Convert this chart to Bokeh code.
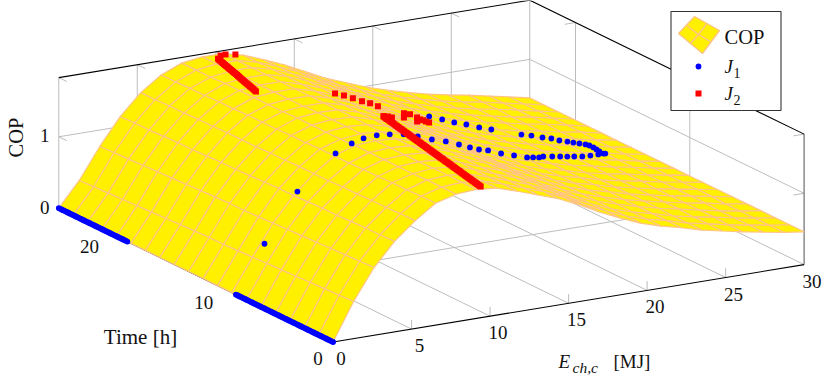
from math import pi
from bokeh.plotting import figure
from bokeh.models import Range1d
from bokeh.core.properties import value
from bokeh.embed import file_html
from bokeh.resources import INLINE

# ---- data ------------------------------------------------------------
energy_grid = [0, 1.304, 2.609, 3.913, 5.217, 6.522, 7.826, 9.130, 10.435, 11.739, 13.043, 14.348,
               15.652, 16.957, 18.261, 19.565, 20.870, 22.174, 23.478, 24.783, 26.087, 27.391, 28.696, 30]
time_grid = [0, 1.263, 2.526, 3.789, 5.053, 6.316, 7.579, 8.842, 10.105, 11.368,
             12.632, 13.895, 15.158, 16.421, 17.684, 18.947, 20.211, 21.474, 22.737, 24]
cop_surface = [
 [0,.52,.95,1.27,1.51,1.71,1.79,1.81,1.78,1.69,1.59,1.49,1.36,1.21,1.08,.96,.87,.80,.72,.66,.60,.55,.50,.46],
 [0,.51,.94,1.26,1.51,1.71,1.79,1.81,1.78,1.69,1.59,1.49,1.36,1.21,1.08,.96,.87,.80,.72,.66,.60,.55,.50,.46],
 [0,.50,.93,1.26,1.50,1.70,1.79,1.81,1.78,1.69,1.59,1.49,1.36,1.21,1.08,.96,.87,.80,.72,.66,.61,.55,.50,.46],
 [0,.49,.92,1.25,1.50,1.70,1.78,1.81,1.78,1.70,1.59,1.49,1.36,1.21,1.08,.97,.88,.80,.73,.67,.61,.55,.50,.46],
 [0,.48,.91,1.24,1.49,1.69,1.78,1.80,1.78,1.70,1.59,1.49,1.36,1.21,1.08,.97,.88,.80,.73,.67,.61,.56,.50,.46],
 [0,.47,.90,1.24,1.49,1.69,1.78,1.80,1.78,1.70,1.60,1.49,1.36,1.21,1.09,.97,.88,.81,.73,.67,.61,.56,.51,.46],
 [0,.46,.89,1.23,1.48,1.68,1.78,1.80,1.78,1.70,1.60,1.49,1.36,1.21,1.09,.97,.88,.81,.73,.67,.61,.56,.51,.46],
 [0,.45,.88,1.22,1.48,1.68,1.78,1.80,1.78,1.70,1.60,1.49,1.36,1.21,1.09,.97,.88,.81,.73,.67,.62,.56,.51,.46],
 [0,.44,.87,1.22,1.48,1.68,1.77,1.80,1.78,1.70,1.60,1.49,1.36,1.21,1.09,.97,.88,.81,.73,.67,.62,.56,.51,.46],
 [0,.43,.86,1.21,1.47,1.67,1.77,1.80,1.78,1.71,1.60,1.49,1.36,1.21,1.09,.97,.89,.81,.74,.68,.62,.57,.51,.46],
 [0,.43,.86,1.20,1.47,1.67,1.77,1.80,1.79,1.71,1.60,1.49,1.35,1.21,1.09,.98,.89,.81,.74,.68,.62,.57,.51,.46],
 [0,.42,.85,1.19,1.46,1.66,1.77,1.80,1.79,1.71,1.60,1.49,1.35,1.21,1.09,.98,.89,.81,.74,.68,.62,.57,.51,.46],
 [0,.41,.84,1.19,1.46,1.66,1.76,1.79,1.79,1.71,1.60,1.49,1.35,1.21,1.09,.98,.89,.81,.74,.68,.63,.57,.51,.46],
 [0,.40,.83,1.18,1.46,1.66,1.76,1.79,1.79,1.71,1.60,1.49,1.35,1.21,1.09,.98,.89,.81,.74,.68,.63,.57,.51,.46],
 [0,.39,.82,1.17,1.45,1.65,1.76,1.79,1.79,1.71,1.60,1.49,1.35,1.21,1.09,.98,.89,.81,.74,.68,.63,.57,.52,.46],
 [0,.38,.81,1.17,1.45,1.65,1.76,1.79,1.79,1.71,1.61,1.49,1.35,1.21,1.10,.98,.90,.82,.75,.69,.63,.58,.52,.46],
 [0,.37,.80,1.16,1.44,1.64,1.76,1.79,1.79,1.72,1.61,1.49,1.35,1.21,1.10,.99,.90,.82,.75,.69,.63,.58,.52,.46],
 [0,.36,.79,1.15,1.44,1.64,1.75,1.79,1.79,1.72,1.61,1.49,1.35,1.21,1.10,.99,.90,.82,.75,.69,.64,.58,.52,.46],
 [0,.35,.78,1.15,1.43,1.63,1.75,1.79,1.79,1.72,1.61,1.49,1.35,1.21,1.10,.99,.90,.82,.75,.69,.64,.58,.52,.46],
 [0,.34,.77,1.14,1.43,1.63,1.75,1.79,1.79,1.72,1.61,1.49,1.35,1.21,1.10,.99,.90,.82,.75,.69,.64,.58,.52,.46],
]

j1_t = [0,.125,.25,.375,.5,.625,.75,.875,1,1.125,1.25,1.375,1.5,1.625,1.75,1.875,2,2.125,2.25,2.375,2.5,2.625,2.75,2.875,
        3,3.125,3.25,3.375,3.5,3.625,3.75,3.875,4,4.125,4.25,4.375,4.5,4.625,4.75,4.875,5,5.125,5.25,5.375,5.5,5.625,5.75,5.875,
        6,6.125,6.25,6.375,6.5,6.625,6.75,6.875,7,7.125,7.25,7.375,7.5,7.625,7.75,7.875,8,8.125,8.25,8.375,8.5,
        8.75,9,9.25,9.5,9.75,10,10.25,10.5,10.75,11,11.25,11.5,11.75,12,12.25,12.5,12.75,13,
        13.16,13.32,13.48,13.64,13.8,13.96,14.12,14.28,14.44,14.6,14.76,14.92,
        15.08,15.24,15.4,15.56,15.72,15.88,16.04,16.2,16.36,16.52,16.68,16.84,17,17.16,17.3,17.45,17.6,17.75,17.9,
        18,18.125,18.25,18.375,18.5,18.625,18.75,18.875,19,19.125,19.25,19.375,19.5,19.625,19.75,19.875,20,20.125,20.25,20.375,20.5,20.625,20.75,20.875,
        21,21.125,21.25,21.375,21.5,21.625,21.75,21.875,22,22.125,22.25,22.375,22.5,22.625,22.75,22.875,23,23.125,23.25,23.375,23.5,23.625,23.75,23.875,24]
j1_e = [0]*69 + [2.0,4.28,6.89,8.1,9.04,10.06,11.07,12.14,13.22,14.3,15.37,16.39,17.27,18.03,18.79,19.8,20.81,21.82,
        22.32,22.82,23.2,23.89,24.51,25.08,25.64,26.27,26.9,27.52,27.96,28.2,
        27.94,27.87,27.79,27.65,27.52,27.25,26.98,26.72,26.32,25.93,25.48,24.89,24.37,22.57,21.9,21.19,20.53,19.87,19.15] + [0]*49
j1_cop = [0]*69 + [.621,1.25,1.672,1.749,1.766,1.752,1.71,1.652,1.565,1.463,1.376,1.277,1.185,1.108,1.048,.949,.866,.782,
          .751,.72,.707,.67,.635,.601,.569,.534,.511,.492,.476,.455,
          .482,.5,.518,.538,.545,.555,.566,.577,.593,.623,.641,.677,.697,.821,.863,.918,.959,1.014,1.069] + [0]*49

j2_t = [0,.175,.35,.525,.7,.875,1.05,1.225,1.4,1.575,1.75,1.925,2.1,2.275,2.45,2.625,2.8,2.975,3.15,3.325,3.5,3.675,3.85,4.025,4.2,4.375,4.55,4.725,4.9,5.075,
        5.25,5.425,5.6,5.775,5.95,6.125,6.3,6.475,6.65,6.825,7,7.175,7.35,7.525,7.7,7.875,8.05,8.225,8.4,8.575,8.75,8.925,9.1,9.275,9.45,9.625,9.8,9.975,
        10.15,10.325,10.5,10.675,10.85,11.025,11.2,11.375,11.55,11.725,11.9,12.075,12.25,12.425,12.6,12.775,12.95,13.125,13.3,13.475,13.65,13.825,14.0,
        14.2,14.3,14.4,14.5,14.6,14.7,14.8,14.9,14.95,15,15.1,15.2,
        15.5,15.8,16.1,16.4,16.7,17,
        18,18.16,18.33,18.49,18.65,18.81,18.98,19.14,19.3,19.46,19.63,19.79,19.95,20.11,20.28,20.44,20.6,20.76,20.93,21.09,21.25,21.41,21.58,21.74,21.9,22.06,22.23,22.39,22.55,22.71,22.88,23.04,23.2,23.4,23.6,24]
j2_e = [9.4,9.45,9.5,9.55,9.6,9.65,9.7,9.75,9.8,9.85,9.9,9.95,10,10.05,10.1,10.15,10.2,10.25,10.3,10.35,10.4,10.45,10.5,10.55,10.6,10.65,10.7,10.75,10.8,10.85,
        10.9,10.95,11,11.05,11.1,11.15,11.2,11.25,11.3,11.35,11.4,11.45,11.5,11.55,11.6,11.65,11.7,11.75,11.8,11.85,11.9,11.95,12,12.05,12.1,12.15,12.2,12.25,
        12.3,12.35,12.4,12.45,12.5,12.55,12.6,12.65,12.7,12.75,12.8,12.85,12.9,12.95,13,13.05,13.1,13.15,13.2,13.25,13.3,13.35,13.4,
        13.57,13.9,14.23,15.07,15.14,15.6,16.12,16.2,16.42,16.65,16.91,17.18,
        14.14,13.86,13.56,13.2,12.85,12.5,
        8.19,8.23,8.28,8.32,8.36,8.4,8.45,8.49,8.53,8.57,8.62,8.66,8.70,8.74,8.79,8.83,8.88,8.92,8.96,9,9.05,9.09,9.13,9.17,9.22,9.26,9.30,9.34,9.39,9.43,9.47,9.51,9.56,9.87,10.33,11.25]
j2_cop = [1.84,1.837,1.834,1.83,1.827,1.824,1.821,1.818,1.814,1.811,1.808,1.805,1.802,1.798,1.795,1.792,1.789,1.786,1.782,1.779,1.776,1.773,1.77,1.766,1.763,1.76,1.757,1.754,1.75,1.747,
          1.744,1.741,1.738,1.734,1.731,1.728,1.725,1.722,1.718,1.715,1.712,1.709,1.706,1.702,1.699,1.696,1.693,1.69,1.686,1.683,1.68,1.677,1.674,1.67,1.667,1.664,1.661,1.658,
          1.654,1.651,1.648,1.645,1.642,1.638,1.635,1.632,1.629,1.626,1.622,1.619,1.616,1.613,1.61,1.606,1.603,1.6,1.597,1.594,1.59,1.587,1.584,
          1.563,1.542,1.508,1.527,1.459,1.479,1.408,1.342,1.358,1.333,1.30,1.269,
          1.58,1.61,1.625,1.656,1.687,1.704,
          1.81,1.81,1.81,1.81,1.81,1.81,1.81,1.81,1.81,1.81,1.81,1.81,1.81,1.81,1.81,1.81,1.81,1.81,1.81,1.81,1.81,1.81,1.81,1.81,1.81,1.81,1.81,1.81,1.81,1.81,1.81,1.81,1.81,1.83,1.812,1.747]

energy_ticks = [0, 5, 10, 15, 20, 25, 30]
time_ticks = [0, 10, 20]
cop_ticks = [0, 1]
E_MAX, T_MAX, Z_MAX = 30, 24, 1.83

# ---- orthographic view of the box --------------------------------------
def proj(e, t, z):
    return (332.6 + 15.7 * e - 11.43 * t, 341.5 - 2.58 * e - 5.58 * t - 71.3 * z)

p = figure(width=831, height=381, output_backend="svg", toolbar_location=None,
           x_range=Range1d(0, 831), y_range=Range1d(381, 0),
           min_border=0, outline_line_color=None)
p.axis.visible = False
p.grid.visible = False
p.background_fill_color = "white"

FONT = value("Liberation Serif")
GRID = "#bdbdbd"
MESH = "#FFC486"

def seg(a, b, color=GRID, w=1.0):
    pa, pb = proj(*a), proj(*b)
    p.line([pa[0], pb[0]], [pa[1], pb[1]], line_color=color, line_width=w)

# grid lines and small ticks
for e in energy_ticks[1:-1]:
    seg((e, 0, 0), (e, T_MAX, 0))
    seg((e, T_MAX, 0), (e, T_MAX, Z_MAX))
    seg((e, T_MAX, Z_MAX), (e, T_MAX - .7, Z_MAX))
    seg((e, 0, 0), (e, 0, .13))
for t in time_ticks[1:]:
    seg((0, t, 0), (E_MAX, t, 0))
    seg((E_MAX, t, 0), (E_MAX, t, Z_MAX))
    seg((E_MAX, t, Z_MAX), (E_MAX - .68, t, Z_MAX))
seg((E_MAX, 0, Z_MAX), (E_MAX - .68, 0, Z_MAX))
for z in cop_ticks:
    seg((0, T_MAX, z), (E_MAX, T_MAX, z))
    seg((E_MAX, T_MAX, z), (E_MAX, 0, z))
    if z > 0:
        seg((0, T_MAX, z), (0, T_MAX - .7, z))
        seg((E_MAX, 0, z), (E_MAX - .68, 0, z))
seg((0, T_MAX, 0), (0, T_MAX, Z_MAX))
seg((0, T_MAX, Z_MAX), (0, T_MAX - .7, Z_MAX))
seg((E_MAX, T_MAX, 0), (E_MAX, T_MAX, Z_MAX))
seg((E_MAX, 0, 0), (E_MAX, 0, Z_MAX), "#6e6e6e", 1.2)
# black box edges
seg((0, 0, 0), (E_MAX, 0, 0), "black", 1.1)
seg((0, 0, 0), (0, T_MAX, 0), "black", 1.1)
seg((0, T_MAX, Z_MAX), (E_MAX, T_MAX, Z_MAX), "black", 1.1)
seg((E_MAX, T_MAX, Z_MAX), (E_MAX, 0, Z_MAX), "black", 1.1)

# surface, far quads first
xs, ys = [], []
for i in range(len(time_grid) - 2, -1, -1):
    for j in range(len(energy_grid) - 2, -1, -1):
        corners = [(j, i), (j + 1, i), (j + 1, i + 1), (j, i + 1)]
        pts = [proj(energy_grid[b], time_grid[a], cop_surface[a][b]) for b, a in corners]
        xs.append([q[0] for q in pts])
        ys.append([q[1] for q in pts])
p.patches(xs, ys, fill_color="#FFF000", line_color=MESH, line_width=1.2)

# scatter series
bp = [proj(*v) for v in zip(j1_e, j1_t, j1_cop)]
p.scatter([q[0] for q in bp], [q[1] for q in bp], marker="circle", size=5.8, fill_color="#0000FF", line_color=None)
rp = [proj(*v) for v in zip(j2_e, j2_t, j2_cop)]
p.scatter([q[0] for q in rp], [q[1] for q in rp], marker="square", size=6, fill_color="#FF0000", line_color=None)

def txt(x, y, s, size=19, style="normal", angle=0.0, align="center"):
    p.text([x], [y], text=[s], text_font=FONT, text_font_size=f"{size}px", text_font_style=style,
           text_align=align, text_baseline="middle", text_color="#111111", angle=angle)

for e in energy_ticks:
    a = proj(e, 0, 0)
    txt(a[0] + 8, a[1] + 16.5, str(e))
for t in time_ticks:
    a = proj(0, t, 0)
    txt(a[0] - 15, a[1] + 16.5, str(t))
for z in cop_ticks:
    a = proj(0, T_MAX, z)
    txt(a[0] - 14, a[1] - 1, str(z))

txt(15, 137, "COP", size=20.5, angle=pi / 2)
txt(140, 336, "Time [h]", size=21)
txt(558, 361, "E", style="italic", align="left")
txt(572, 367, "ch,c", size=15.5, style="italic", align="left")
txt(613, 361, "[MJ]", align="left")

# legend
p.quad(left=[670.5], right=[780.5], top=[11], bottom=[110], fill_color="white", line_color="#333333", line_width=1.1)
L, T_, R, B, C = (678, 33), (694, 16), (719, 30), (702, 53), (698, 34)
mid = lambda a, b: ((a[0] + b[0]) / 2, (a[1] + b[1]) / 2)
LT, TR, RB, BL = mid(L, T_), mid(T_, R), mid(R, B), mid(B, L)
cells = [[L, LT, C, BL], [LT, T_, TR, C], [C, TR, R, RB], [BL, C, RB, B]]
p.patches([[q[0] for q in c] for c in cells], [[q[1] for q in c] for c in cells],
          fill_color="#FFF000", line_color=MESH, line_width=1.3)
p.scatter([698], [66], marker="circle", size=5.8, fill_color="#0000FF", line_color=None)
p.scatter([698], [93], marker="square", size=6, fill_color="#FF0000", line_color=None)
txt(724, 36, "COP", size=20.5, align="left")
txt(724, 66, "J", style="italic", align="left")
txt(733, 72, "1", size=14, align="left")
txt(724, 93, "J", style="italic", align="left")
txt(733, 99, "2", size=14, align="left")

open("out.html", "w").write(file_html(p, INLINE))
